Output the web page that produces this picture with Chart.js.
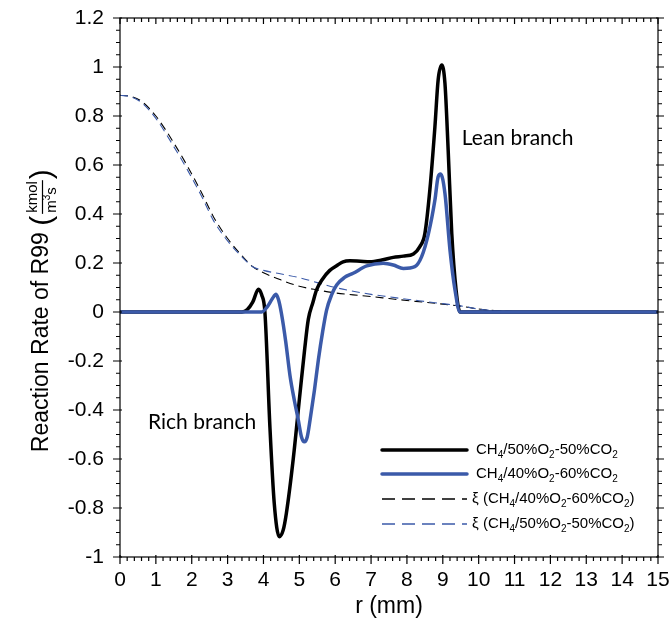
<!DOCTYPE html>
<html>
<head>
<meta charset="utf-8">
<script src="https://cdn.jsdelivr.net/npm/chart.js@4.4.1/dist/chart.umd.min.js"></script>
<style>
  html, body { margin: 0; padding: 0; background: #fff; }
  #wrap { width: 670px; height: 624px; }
</style>
</head>
<body>
<div id="wrap"><canvas id="rateChart"></canvas></div>
<script>
/* Reaction rate of R99 along r, two mixtures + mixture fraction */

const rBlack = [0, 3.4, 3.55, 3.7, 3.86, 3.95, 4.04, 4.18, 4.3, 4.44, 4.55, 4.64, 4.83, 5.02, 5.15, 5.25, 5.38, 5.48, 5.65, 5.85, 6.05, 6.22, 6.41, 6.7, 6.97, 7.3, 7.62, 7.9, 8.18, 8.36, 8.5, 8.64, 8.78, 8.87, 8.97, 9.06, 9.15, 9.25, 9.37, 9.48, 15];
const rateBlack = [0, 0, 0.01, 0.04, 0.093, 0.07, 0.0, -0.47, -0.78, -0.917, -0.89, -0.82, -0.6, -0.33, -0.15, -0.03, 0.04, 0.09, 0.135, 0.17, 0.19, 0.205, 0.209, 0.207, 0.205, 0.212, 0.223, 0.228, 0.237, 0.267, 0.32, 0.5, 0.756, 0.947, 1.008, 0.933, 0.66, 0.32, 0.09, 0, 0];

const rBlue = [0, 3.95, 4.1, 4.25, 4.35, 4.42, 4.5, 4.62, 4.74, 4.86, 4.97, 5.06, 5.14, 5.22, 5.3, 5.42, 5.53, 5.65, 5.76, 5.9, 6.04, 6.25, 6.5, 6.88, 7.34, 7.62, 7.9, 8.22, 8.41, 8.6, 8.78, 8.87, 8.94, 9.06, 9.2, 9.34, 9.48, 15];
const rateBlue = [0, 0, 0.02, 0.055, 0.072, 0.05, -0.005, -0.12, -0.26, -0.36, -0.44, -0.51, -0.53, -0.51, -0.44, -0.32, -0.196, -0.08, 0.008, 0.07, 0.11, 0.14, 0.158, 0.188, 0.199, 0.192, 0.178, 0.185, 0.226, 0.32, 0.457, 0.552, 0.563, 0.484, 0.253, 0.09, 0, 0];

const rXi = [0, 0.3, 0.6, 1.0, 1.5, 1.9, 2.3, 2.6, 3.0, 3.4, 3.7, 4.0, 4.5, 5.0, 5.5, 6.0, 6.5, 7.0, 7.5, 8.0, 8.5, 9.0, 9.5, 10.0, 10.5, 11, 12, 15];
const xiBlack = [0.885, 0.88, 0.86, 0.8, 0.69, 0.59, 0.48, 0.39, 0.3, 0.23, 0.185, 0.16, 0.13, 0.105, 0.09, 0.078, 0.07, 0.063, 0.055, 0.047, 0.04, 0.032, 0.024, 0.012, 0.005, 0.002, 0, 0];
const xiBlue = [0.885, 0.878, 0.855, 0.79, 0.675, 0.575, 0.465, 0.375, 0.29, 0.225, 0.185, 0.17, 0.155, 0.14, 0.12, 0.1, 0.085, 0.072, 0.062, 0.052, 0.043, 0.034, 0.025, 0.012, 0.005, 0.002, 0, 0];

// "_x" = subscript x
const legendLabels = [
  "CH_4/50%O_2-50%CO_2",
  "CH_4/40%O_2-60%CO_2",
  "\u03BE (CH_4/40%O_2-60%CO_2)",
  "\u03BE (CH_4/50%O_2-50%CO_2)"
];

const BLUE = "#3b5aa9";
const FONT = "'Liberation Sans', Arial, sans-serif";

const pts = (xs, ys) => xs.map((v, i) => ({ x: v, y: ys[i] }));

function richText(ctx, str, x, y, size) {
  let cx = x;
  for (let i = 0; i < str.length; i++) {
    let ch = str[i], sub = false;
    if (ch === "_") { sub = true; ch = str[++i]; }
    ctx.font = (sub ? Math.round(size * 0.66) : size) + "px " + FONT;
    ctx.fillText(ch, cx, y + (sub ? size * 0.32 : 0));
    cx += ctx.measureText(ch).width;
  }
}

/* box + minor/major ticks on all four sides */
const frameTicks = {
  id: "frameTicks",
  afterDraw(chart) {
    const { ctx, chartArea: a, scales: { x, y } } = chart;
    ctx.save();
    ctx.strokeStyle = "#000";
    ctx.lineWidth = 1.2;
    ctx.strokeRect(a.left, a.top, a.right - a.left, a.bottom - a.top);
    ctx.beginPath();
    for (let i = 0; i <= 75; i++) {
      const px = x.getPixelForValue(i * 0.2);
      const major = i % 5 === 0;
      ctx.moveTo(px, a.bottom - (major ? 2 : 0));
      ctx.lineTo(px, a.bottom + (major ? 7 : 4));
      ctx.moveTo(px, a.top);
      ctx.lineTo(px, a.top + (major ? 6 : 4));
    }
    for (let i = 0; i <= 44; i++) {
      const py = y.getPixelForValue(-1 + i * 0.05);
      const major = i % 4 === 0;
      ctx.moveTo(a.left - (major ? 7 : 4), py);
      ctx.lineTo(a.left + (major ? 2 : 0), py);
      ctx.moveTo(a.right - (major ? 2 : 0), py);
      ctx.lineTo(a.right + (major ? 6 : 4), py);
    }
    ctx.stroke();
    ctx.restore();
  }
};

/* y title with kmol / m3s fraction, legend and branch notes */
const extras = {
  id: "extras",
  afterDraw(chart) {
    const { ctx, scales: { x, y } } = chart;
    ctx.save();
    ctx.fillStyle = "#000";

    // y axis title
    ctx.translate(42, 304);
    ctx.rotate(-Math.PI / 2);
    ctx.textBaseline = "middle";
    ctx.textAlign = "left";
    ctx.font = "23px " + FONT;
    const main = "Reaction Rate of R99 ";
    const total = ctx.measureText(main).width + 70;
    let cx = -total / 2;
    ctx.fillText(main, cx, 0);
    cx += ctx.measureText(main).width;
    ctx.font = "30px " + FONT;
    ctx.fillText("(", cx, 1);
    cx += ctx.measureText("(").width + 1;
    ctx.font = "15px " + FONT;
    const wNum = ctx.measureText("kmol").width;
    ctx.fillText("kmol", cx + 2, -9);
    ctx.fillText("m", cx + 2, 10);
    const wm = ctx.measureText("m").width;
    ctx.font = "10px " + FONT;
    ctx.fillText("3", cx + 2 + wm, 5);
    const w3 = ctx.measureText("3").width;
    ctx.font = "15px " + FONT;
    ctx.fillText("s", cx + 2 + wm + w3, 10);
    ctx.lineWidth = 1.2;
    ctx.beginPath();
    ctx.moveTo(cx + 1, 0.5);
    ctx.lineTo(cx + wNum + 3, 0.5);
    ctx.stroke();
    cx += wNum + 4;
    ctx.font = "30px " + FONT;
    ctx.fillText(")", cx, 1);
    ctx.setTransform(1, 0, 0, 1, 0, 0);

    // legend
    const rows = [450, 474, 499, 524];
    const styles = [
      { color: "#000", width: 3.5, dash: [] },
      { color: BLUE, width: 3.5, dash: [] },
      { color: "#000", width: 1.3, dash: [13, 7] },
      { color: BLUE, width: 1.3, dash: [13, 7] }
    ];
    ctx.textBaseline = "middle";
    rows.forEach((ry, i) => {
      const s = styles[i];
      ctx.strokeStyle = s.color;
      ctx.lineWidth = s.width;
      ctx.lineCap = s.dash.length ? "butt" : "round";
      ctx.setLineDash(s.dash);
      ctx.beginPath();
      ctx.moveTo(382, ry);
      ctx.lineTo(467, ry);
      ctx.stroke();
      ctx.setLineDash([]);
      richText(ctx, legendLabels[i], i < 2 ? 476 : 472, ry, 15);
    });

    // branch annotations
    ctx.font = "21px Lato, 'Open Sans', sans-serif";
    ctx.textAlign = "left";
    ctx.fillText("Lean branch", x.getPixelForValue(9.53), y.getPixelForValue(0.71));
    ctx.fillText("Rich branch", x.getPixelForValue(0.78), y.getPixelForValue(-0.449));
    ctx.restore();
  }
};

new Chart(document.getElementById("rateChart"), {
  type: "line",
  data: {
    datasets: [
      { data: pts(rBlack, rateBlack), borderColor: "#000", borderWidth: 3.5, order: 1 },
      { data: pts(rBlue, rateBlue), borderColor: BLUE, borderWidth: 3.5, order: 0 },
      { data: pts(rXi, xiBlack), borderColor: "#000", borderWidth: 1.1, borderDash: [8, 5], order: 3 },
      { data: pts(rXi, xiBlue), borderColor: BLUE, borderWidth: 1.1, borderDash: [8, 5], order: 2 }
    ]
  },
  options: {
    responsive: true,
    maintainAspectRatio: false,
    animation: false,
    layout: { padding: { top: 18, right: 12, left: 0, bottom: 0 } },
    elements: {
      point: { radius: 0 },
      line: { cubicInterpolationMode: "monotone", fill: false, borderJoinStyle: "round" }
    },
    plugins: { legend: { display: false }, tooltip: { enabled: false } },
    scales: {
      x: {
        type: "linear",
        min: 0,
        max: 15,
        grid: { display: false, drawTicks: false },
        border: { display: false },
        ticks: { stepSize: 1, color: "#000", font: { family: FONT, size: 21 }, padding: 11, maxRotation: 0 },
        title: { display: true, text: "r (mm)", color: "#000", font: { family: FONT, size: 23 }, padding: { top: 0, bottom: 4 } },
        afterFit: s => { s.height = 67; s.paddingLeft = 0; s.paddingRight = 0; }
      },
      y: {
        min: -1,
        max: 1.2,
        grid: { display: false, drawTicks: false },
        border: { display: false },
        ticks: {
          stepSize: 0.2,
          color: "#000",
          font: { family: FONT, size: 21 },
          padding: 16,
          callback: v => String(Math.round(v * 10) / 10)
        },
        afterFit: s => { s.width = 120; s.paddingTop = 0; s.paddingBottom = 0; }
      }
    }
  },
  plugins: [frameTicks, extras]
});
</script>
</body>
</html>
